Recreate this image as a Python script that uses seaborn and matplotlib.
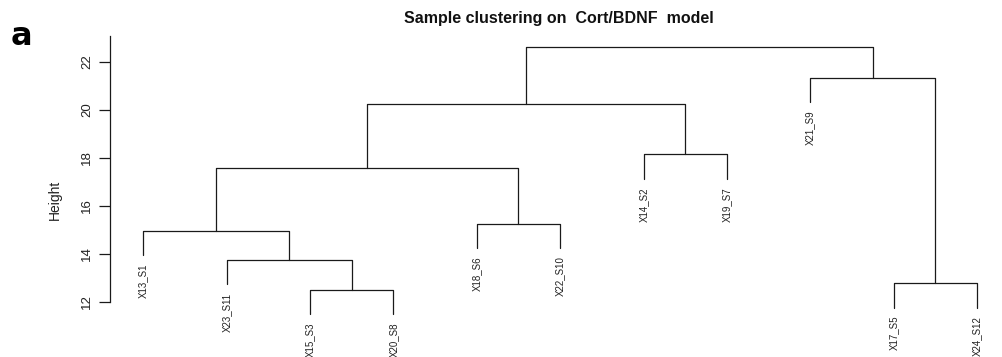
import numpy as np
import pandas as pd
import matplotlib
matplotlib.use("Agg")
import matplotlib.pyplot as plt
import seaborn as sns

# ---- data ----
leaf_labels = ["X13_S1", "X23_S11", "X15_S3", "X20_S8", "X18_S6", "X22_S10",
               "X14_S2", "X19_S7", "X21_S9", "X17_S5", "X24_S12"]
# R-style merge matrix: negative = leaf (1-based index in leaf order), positive = earlier merge
merge_left = [-3, -10, -2, -1, -5, 4, -7, 6, -9, 8]
merge_right = [-4, -11, 1, 3, -6, 5, -8, 7, 2, 9]
merge_height = [12.50, 12.78, 13.75, 14.96, 15.25, 17.57, 18.15, 20.25, 21.35, 22.62]
y_ticks = [12, 14, 16, 18, 20, 22]

sns.set_style("white")
plt.rcParams["font.family"] = ["Liberation Sans", "DejaVu Sans"]

W, H = 1002, 357
fig = plt.figure(figsize=(W / 100, H / 100), dpi=100)
ax = fig.add_axes([110 / W, 0, (W - 110) / W, 1])

hang = 0.1 * (max(merge_height) - min(merge_height))
n = len(merge_height)
node_x = {}

def pos(idx):
    if idx < 0:
        return float(-idx)
    return node_x[idx]

segs = []
for i in range(n):
    l, r, h = merge_left[i], merge_right[i], merge_height[i]
    xl, xr = pos(l), pos(r)
    node_x[i + 1] = (xl + xr) / 2
    yl = merge_height[l - 1] if l > 0 else h - hang
    yr = merge_height[r - 1] if r > 0 else h - hang
    segs.append(([xl, xl, xr, xr], [yl, h, h, yr]))
    for c, xc, yc in ((l, xl, yl), (r, xr, yr)):
        if c < 0:
            ax.annotate(leaf_labels[-c - 1], xy=(xc, yc), xytext=(0, -6),
                        textcoords="offset points", rotation=90,
                        ha="center", va="top", fontsize=7, color="#222222")

for k, (xs, ys) in enumerate(segs):
    df = pd.DataFrame({"x": xs, "y": ys, "o": range(4)})
    sns.lineplot(data=df, x="x", y="y", sort=False, estimator=None,
                 color="#1a1a1a", linewidth=0.9, ax=ax)

ax.set_xlim(0.6, 11.3)
ax.set_ylim(12 - 55 / 24, 12 + 302 / 24)
for s in ["top", "right", "bottom"]:
    ax.spines[s].set_visible(False)
ax.spines["left"].set_bounds(12, 23.1)
ax.spines["left"].set_linewidth(0.9)
ax.spines["left"].set_color("#1a1a1a")
ax.set_xticks([])
ax.set_yticks(y_ticks)
ax.set_yticklabels([str(t) for t in y_ticks], rotation=90, va="center", fontsize=9.5, color="#222222")
ax.tick_params(axis="y", left=True, length=8, width=0.9, color="#1a1a1a", pad=4)
ax.set_xlabel("")
ax.set_ylabel("")
ax.patch.set_alpha(0)

fig.text(55 / W, 1 - 200 / H, "Height", rotation=90, ha="center", va="center", fontsize=10, color="#222222")
fig.text(559 / W, 1 - 18 / H, "Sample clustering on  Cort/BDNF  model", ha="center", va="center",
         fontsize=11.5, fontweight="bold", color="#111111")
fig.text(11 / W, 1 - 45 / H, "a", ha="left", va="baseline", fontsize=23, fontweight="bold",
         family="DejaVu Sans", color="black")

fig.savefig("out.png", dpi=100)
